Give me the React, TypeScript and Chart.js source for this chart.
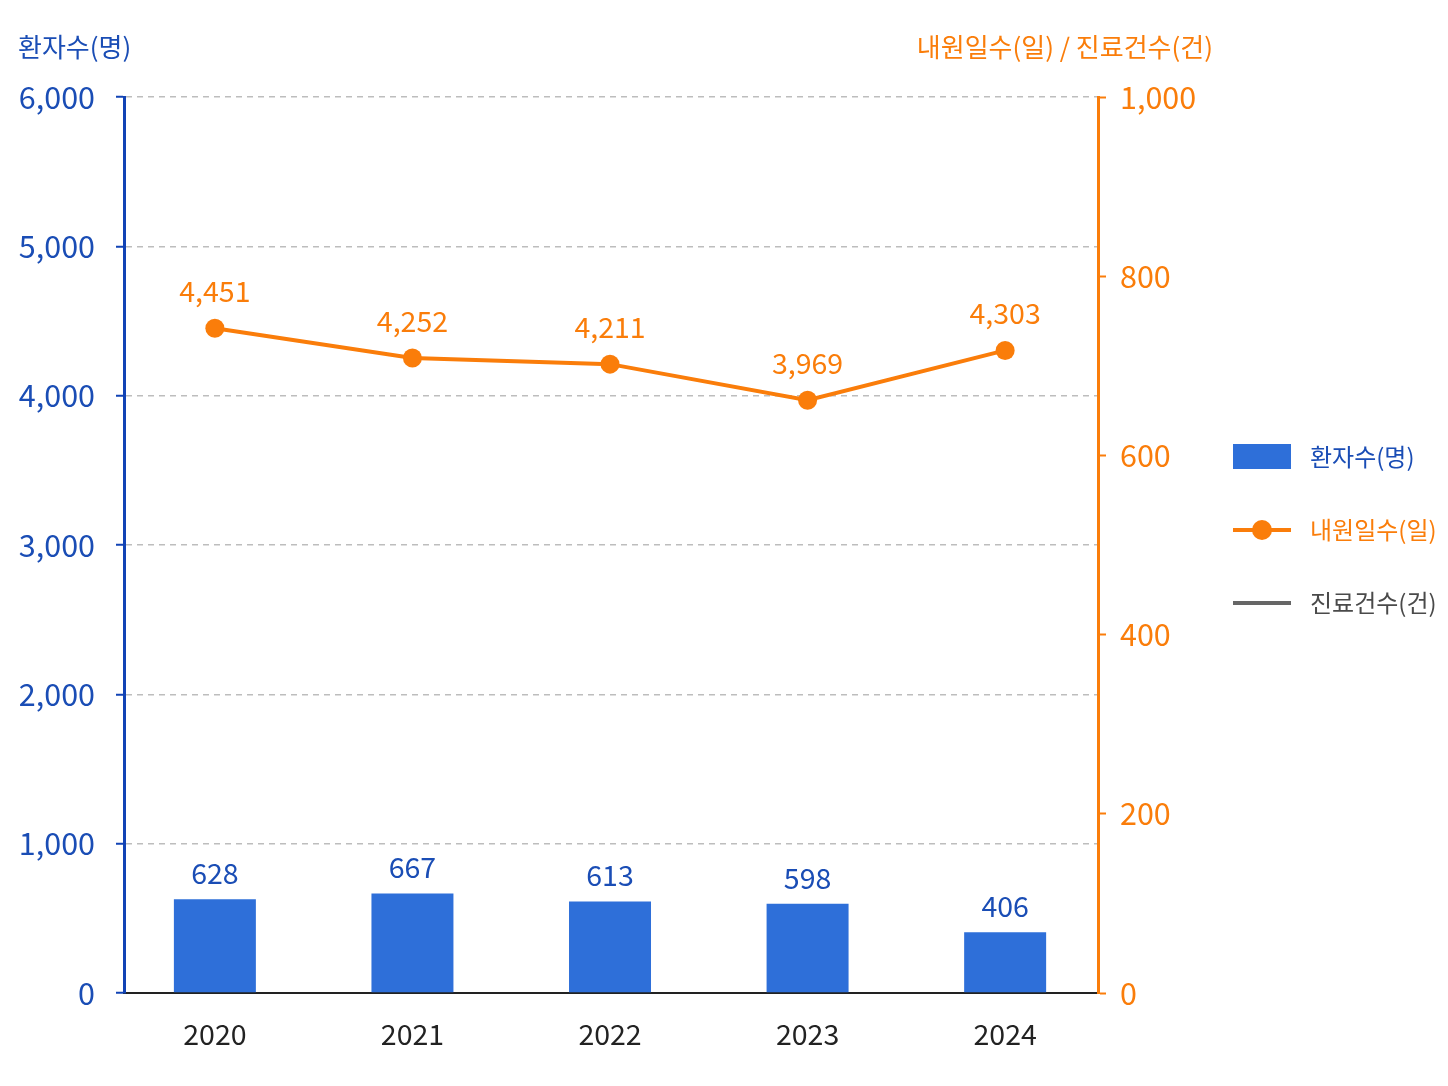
import { useEffect, useRef } from "react";
import { Chart, registerables } from "chart.js";

Chart.register(...registerables);

const years = ["2020", "2021", "2022", "2023", "2024"];
const patients = [628, 667, 613, 598, 406];
const visitDays = [4451, 4252, 4211, 3969, 4303];
const treatments: (number | null)[] = [null, null, null, null, null];
const leftTickMax = 6000;
const leftTickStep = 1000;
const rightTickMax = 1000;
const rightTickStep = 200;

const FONT = '"Noto Sans CJK KR", "Noto Sans", sans-serif';
const BLUE_BAR = "#2E6FD9";
const BLUE_AXIS = "#1143B5";
const BLUE_TEXT = "#1A4DB5";
const ORANGE = "#FA7D0A";
const GRAY_LINE = "#666666";
const GRAY_TEXT = "#4A4A4A";
const DARK = "#222222";

const fmt = (v: number) => v.toLocaleString("en-US");

const overlay = {
  id: "overlay",
  afterDatasetsDraw(chart: any) {
    const ctx = chart.ctx as CanvasRenderingContext2D;
    ctx.save();
    ctx.font = `28.5px ${FONT}`;
    ctx.textAlign = "center";
    ctx.textBaseline = "middle";
    const barMeta = chart.getDatasetMeta(0);
    barMeta.data.forEach((el: any, i: number) => {
      ctx.fillStyle = BLUE_TEXT;
      ctx.fillText(fmt(patients[i]), el.x, el.y - 26);
    });
    const lineMeta = chart.getDatasetMeta(1);
    lineMeta.data.forEach((el: any, i: number) => {
      ctx.fillStyle = ORANGE;
      ctx.fillText(fmt(visitDays[i]), el.x, el.y - 37);
    });
    ctx.restore();
  },
  afterDraw(chart: any) {
    const ctx = chart.ctx as CanvasRenderingContext2D;
    const area = chart.chartArea;
    ctx.save();
    // axis titles
    ctx.font = `26px ${FONT}`;
    ctx.textBaseline = "middle";
    ctx.textAlign = "left";
    ctx.fillStyle = BLUE_TEXT;
    ctx.fillText("환자수(명)", 18, area.top - 50);
    ctx.textAlign = "right";
    ctx.fillStyle = ORANGE;
    ctx.fillText("내원일수(일) / 진료건수(건)", area.right + 115, area.top - 50);

    // legend
    const lx = 1233;
    const lw = 58;
    const tx = 1310;
    ctx.font = `24px ${FONT}`;
    ctx.textAlign = "left";
    // bar item
    ctx.fillStyle = BLUE_BAR;
    ctx.fillRect(lx, 444, lw, 25);
    ctx.fillStyle = BLUE_TEXT;
    ctx.fillText("환자수(명)", tx, 457);
    // line item
    ctx.strokeStyle = ORANGE;
    ctx.lineWidth = 4;
    ctx.beginPath();
    ctx.moveTo(lx, 530);
    ctx.lineTo(lx + lw, 530);
    ctx.stroke();
    ctx.fillStyle = ORANGE;
    ctx.beginPath();
    ctx.arc(lx + lw / 2, 530, 10, 0, Math.PI * 2);
    ctx.fill();
    ctx.fillText("내원일수(일)", tx, 530);
    // gray line item
    ctx.strokeStyle = GRAY_LINE;
    ctx.beginPath();
    ctx.moveTo(lx, 603);
    ctx.lineTo(lx + lw, 603);
    ctx.stroke();
    ctx.fillStyle = GRAY_TEXT;
    ctx.fillText("진료건수(건)", tx, 603);
    ctx.restore();
  },
};

export default function App() {
  const ref = useRef<HTMLCanvasElement | null>(null);

  useEffect(() => {
    if (!ref.current) return;
    const chart = new Chart(ref.current, {
      type: "bar",
      data: {
        labels: years,
        datasets: [
          {
            type: "bar",
            label: "환자수(명)",
            data: patients,
            backgroundColor: BLUE_BAR,
            yAxisID: "y",
            barPercentage: 0.415,
            categoryPercentage: 1,
            order: 2,
          },
          {
            type: "line",
            label: "내원일수(일)",
            data: visitDays,
            borderColor: ORANGE,
            backgroundColor: ORANGE,
            borderWidth: 4,
            pointRadius: 9.5,
            pointBorderWidth: 0,
            pointBackgroundColor: ORANGE,
            tension: 0,
            yAxisID: "y",
            order: 1,
          },
          {
            type: "line",
            label: "진료건수(건)",
            data: treatments,
            borderColor: GRAY_LINE,
            backgroundColor: GRAY_LINE,
            borderWidth: 4,
            pointRadius: 0,
            yAxisID: "y1",
            order: 0,
          },
        ],
      } as any,
      options: {
        responsive: false,
        animation: false,
        layout: { padding: { top: 97, left: 0, right: 0, bottom: 0 } },
        plugins: {
          legend: { display: false },
          tooltip: { enabled: false },
          title: { display: false },
        },
        scales: {
          x: {
            type: "category",
            offset: true,
            afterBuildTicks: (s: any) => {
              s._startValue = -0.46;
              s._valueRange = 4.93;
            },
            afterFit: (s: any) => {
              s.height = 93;
            },
            grid: { display: false, drawTicks: false },
            border: { display: true, color: DARK, width: 2 },
            ticks: {
              color: DARK,
              font: { family: FONT, size: 28.5 },
              padding: 24,
            },
          },
          y: {
            type: "linear",
            position: "left",
            min: 0,
            max: leftTickMax,
            afterFit: (s: any) => {
              s.width = 124;
            },
            ticks: {
              stepSize: leftTickStep,
              color: BLUE_TEXT,
              padding: 21,
              font: { family: FONT, size: 30.5 },
              callback: (v: any) => fmt(Number(v)),
            },
            grid: {
              color: "#BDBDBD",
              lineWidth: 1.5,
              tickColor: BLUE_AXIS,
              tickLength: 8,
              tickWidth: 2,
            },
            border: { display: true, color: BLUE_AXIS, width: 3, dash: [6, 5] },
          },
          y1: {
            type: "linear",
            position: "right",
            min: 0,
            max: rightTickMax,
            afterFit: (s: any) => {
              s.width = 350;
            },
            ticks: {
              stepSize: rightTickStep,
              color: ORANGE,
              padding: 14,
              font: { family: FONT, size: 30.5 },
              callback: (v: any) => fmt(Number(v)),
            },
            grid: {
              drawOnChartArea: false,
              tickColor: ORANGE,
              tickLength: 8,
              tickWidth: 2,
            },
            border: { display: true, color: ORANGE, width: 3 },
          },
        },
      } as any,
      plugins: [overlay],
    });
    return () => chart.destroy();
  }, []);

  return (
    <div
      style={{
        position: "absolute",
        left: 0,
        top: 0,
        width: 1448,
        height: 1086,
        background: "#ffffff",
      }}
    >
      <canvas ref={ref} width={1448} height={1086} style={{ display: "block" }} />
    </div>
  );
}
